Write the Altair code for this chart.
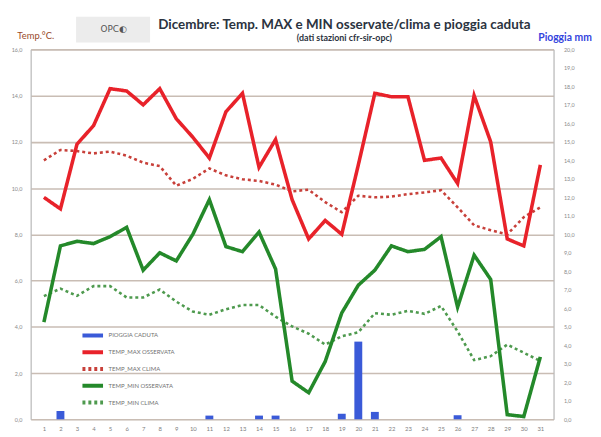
import altair as alt
import pandas as pd

days = list(range(1, 32))
tmax_oss = [9.6, 9.1, 11.9, 12.7, 14.3, 14.2, 13.6, 14.3, 13.0, 12.2, 11.3, 13.3, 14.1, 10.9, 12.1,
            9.5, 7.8, 8.6, 8.0, 11.0, 14.1, 13.95, 13.95, 11.2, 11.3, 10.2, 14.0, 12.0, 7.8, 7.5, 11.0]
tmax_clima = [11.2, 11.65, 11.6, 11.5, 11.58, 11.4, 11.1, 10.95, 10.1, 10.4, 10.85, 10.55, 10.38, 10.31, 10.15,
              9.86, 9.93, 9.39, 8.96, 9.67, 9.6, 9.63, 9.74, 9.81, 9.91, 9.17, 8.39, 8.18, 8.0, 8.74, 9.17]
tmin_oss = [4.2, 7.5, 7.7, 7.6, 7.9, 8.3, 6.45, 7.2, 6.85, 8.0, 9.5, 7.47, 7.25, 8.1, 6.5,
            1.65, 1.15, 2.5, 4.6, 5.8, 6.45, 7.5, 7.25, 7.35, 7.9, 4.85, 7.1, 6.05, 0.2, 0.12, 2.7]
tmin_clima = [5.33, 5.65, 5.34, 5.76, 5.76, 5.27, 5.27, 5.61, 5.09, 4.66, 4.52, 4.76, 4.94, 4.94, 4.44,
              4.02, 3.7, 3.23, 3.59, 3.76, 4.59, 4.52, 4.69, 4.56, 4.9, 3.8, 2.56, 2.73, 3.23, 2.88, 2.52]
pioggia = [0, 0.45, 0, 0, 0, 0, 0, 0, 0, 0, 0.2, 0, 0, 0.2, 0.2,
           0, 0, 0, 0.3, 4.2, 0.4, 0, 0, 0, 0, 0.22, 0, 0, 0, 0, 0]

series = ["PIOGGIA CADUTA", "TEMP_MAX OSSERVATA", "TEMP_MAX CLIMA", "TEMP_MIN OSSERVATA", "TEMP_MIN CLIMA"]
colors = ["#3a5ad8", "#e8222a", "#c8403a", "#24892a", "#4e9a4e"]
dashes = [[1, 0], [1, 0], [3, 3], [1, 0], [3, 3]]
left_ticks = [0, 2, 4, 6, 8, 10, 12, 14, 16]
right_ticks = list(range(0, 21))

rain_df = pd.DataFrame({"day": days, "mm": pioggia, "serie": series[0]})
oss_df = pd.concat([
    pd.DataFrame({"day": days, "value": tmax_oss, "serie": series[1]}),
    pd.DataFrame({"day": days, "value": tmin_oss, "serie": series[3]}),
])
clima_df = pd.concat([
    pd.DataFrame({"day": days, "value": tmax_clima, "serie": series[2]}),
    pd.DataFrame({"day": days, "value": tmin_clima, "serie": series[4]}),
])

FONT = "Lato"
fmt = "replace(format(datum.value, '.1f'), '.', ',')"

x_enc = alt.X("day:Q", scale=alt.Scale(domain=[0.5, 31.5], nice=False, zero=False),
              axis=alt.Axis(values=days, title=None, grid=False, domain=False, ticks=False,
                            labelFontSize=6, labelColor="#808080", labelPadding=6, format="d",
                            labelFont=FONT))

color_scale = alt.Scale(domain=series, range=colors)
dash_scale = alt.Scale(domain=series, range=dashes)

legend = alt.Legend(title=None, orient="none", legendX=53.9, legendY=281, symbolType="M-1.6,0L1.6,0",
                    symbolSize=170, symbolStrokeWidth=4, labelFontSize=6, labelColor="#707070",
                    labelOffset=7.1, rowPadding=0, padding=0, direction="vertical", labelFont=FONT)

y_left = alt.Y("value:Q", scale=alt.Scale(domain=[0, 16], nice=False),
               axis=alt.Axis(values=left_ticks, title="Temp.°C.", titleAngle=0, titleX=-14, titleY=-14,
                             titleAlign="left", titleBaseline="middle", titleFontSize=9.5,
                             titleColor="#9a4a2a", titleFontWeight="normal", titleFont=FONT,
                             grid=True, gridColor="#c9bdb4", gridWidth=1.6,
                             domain=True, domainColor="#b8b8b8", ticks=False,
                             labelFontSize=5.5, labelColor="#8a8a8a", labelPadding=9, labelExpr=fmt,
                             labelFont=FONT))

bars = alt.Chart(rain_df).mark_bar(size=8, color=colors[0]).encode(
    x=x_enc,
    y=alt.Y("mm:Q", scale=alt.Scale(domain=[0, 20], nice=False),
            axis=alt.Axis(orient="right", values=right_ticks, title="Pioggia mm", titleAngle=0,
                          titleX=-16, titleY=-12, titleAlign="left", titleBaseline="middle",
                          titleColor="#3344dd", titleFontWeight="bold", titleFontSize=10.5, titleFont=FONT,
                          grid=False, domainColor="#b8b8b8", ticks=False,
                          labelFontSize=5.5, labelColor="#8a8a8a", labelPadding=10, labelExpr=fmt,
                          labelFont=FONT)),
)

line_oss = alt.Chart(oss_df).mark_line(strokeWidth=3.6).encode(
    x=x_enc, y=y_left,
    color=alt.Color("serie:N", scale=color_scale, legend=legend),
    strokeDash=alt.StrokeDash("serie:N", scale=dash_scale, legend=legend),
    detail="serie:N",
)
line_clima = alt.Chart(clima_df).mark_line(strokeWidth=2.6).encode(
    x=x_enc, y=y_left,
    color=alt.Color("serie:N", scale=color_scale, legend=legend),
    strokeDash=alt.StrokeDash("serie:N", scale=dash_scale, legend=legend),
    detail="serie:N",
)

logo_df = pd.DataFrame({"t": ["OPC◐"]})
logo_box = alt.Chart(logo_df).mark_rect(color="#ececec").encode(
    x=alt.value(46), x2=alt.value(121), y=alt.value(-33), y2=alt.value(-7))
logo_txt = alt.Chart(logo_df).mark_text(fontSize=9, color="#555555", font="DejaVu Sans").encode(
    x=alt.value(84), y=alt.value(-21), text="t:N")

chart = alt.layer(
    bars,
    alt.layer(line_clima, line_oss),
).resolve_scale(y="independent")

chart = alt.layer(logo_box, logo_txt, chart).properties(
    width=530, height=375,
    title=alt.Title("Dicembre: Temp. MAX e MIN osservate/clima e pioggia caduta",
                    subtitle="(dati stazioni cfr-sir-opc)", anchor="middle", dx=53, dy=33, frame="group",
                    fontSize=13.6, fontWeight="bold", color="#2b3340", font=FONT,
                    subtitleFontSize=9, subtitleFontWeight="bold", subtitleColor="#2b3340",
                    subtitleFont=FONT, offset=6, subtitlePadding=3),
    autosize=alt.AutoSizeParams(type="none"),
    padding={"left": 23, "top": 39, "right": 40, "bottom": 14},
).configure_view(stroke=None).configure(font=FONT)

chart.save("out.html", embed_options={"renderer": "svg", "actions": False})
